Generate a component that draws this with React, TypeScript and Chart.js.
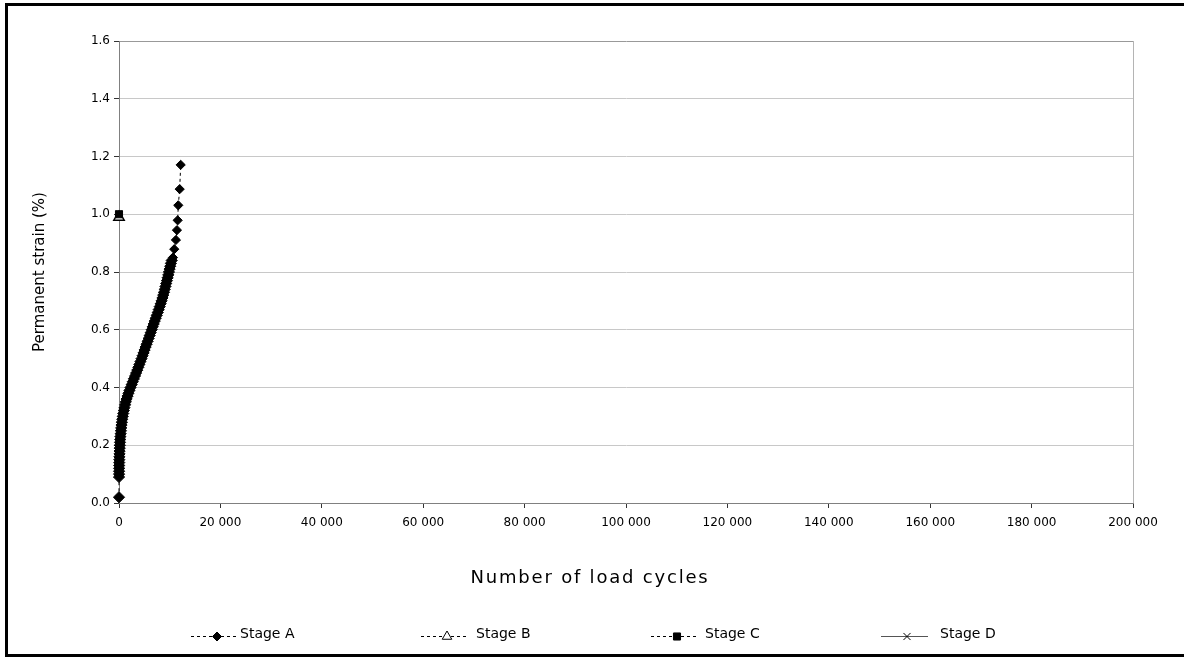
import React, { useEffect, useRef } from 'react';
import { Chart, registerables } from 'chart.js';
import { drawPoint } from 'chart.js/helpers';

Chart.register(...registerables);

// ---- Data ----
const stageACycles = [
  0, 0, 10, 20, 30, 40, 50, 60, 80, 100, 120, 140, 170, 200, 240, 280, 330, 380, 440, 500,
  570, 650, 740, 840, 950, 1070, 1200, 1340, 1500, 1680, 1870, 2070, 2280, 2500, 2720, 2940,
  3160, 3380, 3600, 3820, 4030, 4240, 4450, 4650, 4850, 5050, 5250, 5450, 5650, 5850, 6050,
  6250, 6450, 6650, 6850, 7050, 7250, 7450, 7650, 7840, 8030, 8220, 8400, 8570, 8730, 8880,
  9030, 9170, 9310, 9450, 9590, 9720, 9850, 9980, 10110, 10240, 10400, 10640, 10900, 11230,
  11430, 11570, 11690, 11970, 12170,
];
const stageAStrain = [
  0.02, 0.09, 0.10, 0.11, 0.12, 0.13, 0.14, 0.15, 0.16, 0.17, 0.18, 0.19, 0.20, 0.21, 0.22,
  0.23, 0.24, 0.25, 0.26, 0.27, 0.28, 0.29, 0.30, 0.31, 0.32, 0.33, 0.34, 0.35, 0.36, 0.37,
  0.38, 0.39, 0.40, 0.41, 0.42, 0.43, 0.44, 0.45, 0.46, 0.47, 0.48, 0.49, 0.50, 0.51, 0.52,
  0.53, 0.54, 0.55, 0.56, 0.57, 0.58, 0.59, 0.60, 0.61, 0.62, 0.63, 0.64, 0.65, 0.66, 0.67,
  0.68, 0.69, 0.70, 0.71, 0.72, 0.73, 0.74, 0.75, 0.76, 0.77, 0.78, 0.79, 0.80, 0.81, 0.82,
  0.83, 0.84, 0.85, 0.879, 0.911, 0.945, 0.979, 1.031, 1.087, 1.171,
];
const stageBCycles = [0];
const stageBStrain = [0.99];
const stageCCycles = [0];
const stageCStrain = [1.0];
const stageDCycles = [0];
const stageDStrain = [1.0];

const seriesNames = ['Stage A', 'Stage B', 'Stage C', 'Stage D'];
const xMin = 0;
const xMax = 200000;
const xStep = 20000;
const yMin = 0;
const yMax = 1.6;
const yStep = 0.2;
const xTitle = 'Number of load cycles';
const yTitle = 'Permanent strain (%)';

const FONT = "'DejaVu Sans', Verdana, sans-serif";

const toPoints = (xs: number[], ys: number[]) => xs.map((x, i) => ({ x, y: ys[i] }));
const fmtThousands = (v: number) => String(Math.round(v)).replace(/\B(?=(\d{3})+(?!\d))/g, ' ');

const legendTextOffsets = [49, 55, 54, 59];

const decorPlugin = {
  id: 'decor',
  afterDraw(chart: any) {
    const ctx = chart.ctx as CanvasRenderingContext2D;
    const area = chart.chartArea;
    ctx.save();
    ctx.fillStyle = '#000';
    ctx.textAlign = 'center';
    ctx.textBaseline = 'middle';
    ctx.save();
    ctx.font = `18px ${FONT}`;
    (ctx as any).letterSpacing = '1.8px';
    ctx.fillText(xTitle, chart.width / 2 - 2, 578);
    ctx.restore();
    ctx.font = `15px ${FONT}`;
    ctx.save();
    ctx.translate(40, (area.top + area.bottom) / 2);
    ctx.rotate(-Math.PI / 2);
    ctx.fillText(yTitle, 0, 0);
    ctx.restore();

    const start = chart.width / 2 - 401;
    const ly = 636.5;
    chart.data.datasets.forEach((ds: any, i: number) => {
      const x0 = start + i * 230;
      ctx.save();
      ctx.strokeStyle = ds.legendLineColor || ds.borderColor;
      ctx.lineWidth = 1;
      ctx.setLineDash(ds.borderDash || []);
      ctx.beginPath();
      ctx.moveTo(x0, ly);
      ctx.lineTo(x0 + 47, ly);
      ctx.stroke();
      ctx.setLineDash([]);
      ctx.fillStyle = ds.pointBackgroundColor;
      ctx.strokeStyle = ds.pointBorderColor;
      ctx.lineWidth = 1;
      drawPoint(ctx, { pointStyle: ds.pointStyle, rotation: 0, radius: ds.legendRadius, borderWidth: 1 } as any, x0 + 26, ly);
      ctx.restore();
      ctx.fillStyle = '#000';
      ctx.font = `14px ${FONT}`;
      ctx.textAlign = 'left';
      ctx.textBaseline = 'middle';
      ctx.fillText(seriesNames[i], x0 + legendTextOffsets[i], ly - 2);
    });
    ctx.restore();
  },
};

export default function App() {
  const canvasRef = useRef<HTMLCanvasElement | null>(null);

  useEffect(() => {
    if (!canvasRef.current) return;
    const chart = new Chart(canvasRef.current, {
      type: 'scatter',
      data: {
        datasets: [
          {
            label: seriesNames[0],
            data: toPoints(stageACycles, stageAStrain),
            order: 0,
            showLine: true,
            borderColor: '#000',
            borderWidth: 1,
            borderDash: [3, 3],
            pointStyle: 'rectRot',
            pointRadius: (c: any) => (c.raw && c.raw.y > 0.845 ? 4.6 : 5.6),
            legendRadius: 4.5,
            pointBackgroundColor: '#000',
            pointBorderColor: '#000',
            pointBorderWidth: 1,
            clip: false,
          },
          {
            label: seriesNames[1],
            data: toPoints(stageBCycles, stageBStrain),
            order: 3,
            showLine: true,
            borderColor: '#000',
            borderWidth: 1,
            borderDash: [3, 3],
            pointStyle: 'triangle',
            pointRadius: 6,
            legendRadius: 5.5,
            pointBackgroundColor: '#fff',
            pointBorderColor: '#000',
            pointBorderWidth: 1.5,
            clip: false,
          },
          {
            label: seriesNames[2],
            data: toPoints(stageCCycles, stageCStrain),
            order: 1,
            showLine: true,
            borderColor: '#000',
            borderWidth: 1,
            borderDash: [3, 3],
            pointStyle: 'rect',
            pointRadius: 5,
            legendRadius: 5,
            pointBackgroundColor: '#000',
            pointBorderColor: '#000',
            pointBorderWidth: 1,
            clip: false,
          },
          {
            label: seriesNames[3],
            data: toPoints(stageDCycles, stageDStrain),
            order: 2,
            showLine: true,
            borderColor: '#555',
            legendLineColor: '#555',
            borderWidth: 1,
            pointStyle: 'crossRot',
            pointRadius: 5,
            legendRadius: 5,
            pointBackgroundColor: '#000',
            pointBorderColor: '#000',
            pointBorderWidth: 1.5,
            clip: false,
          },
        ],
      },
      options: {
        responsive: false,
        animation: false,
        devicePixelRatio: 1,
        layout: { padding: { left: 0, top: 41, right: 51, bottom: 0 } },
        plugins: {
          legend: { display: false },
          tooltip: { enabled: false },
        },
        scales: {
          x: {
            type: 'linear',
            min: xMin,
            max: xMax,
            afterFit: (s: any) => { s.height = 154; },
            border: { display: true, color: '#808080', width: 1 },
            grid: {
              drawOnChartArea: true,
              drawTicks: true,
              tickLength: 5,
              tickColor: '#333',
              color: (c: any) => (c.tick && c.tick.value === xMax ? '#b4b4b4' : 'rgba(0,0,0,0)'),
            },
            ticks: {
              stepSize: xStep,
              autoSkip: false,
              maxRotation: 0,
              padding: 8,
              color: '#000',
              font: { family: FONT, size: 12 },
              callback: (v: any) => fmtThousands(Number(v)),
            },
          },
          y: {
            type: 'linear',
            min: yMin,
            max: yMax,
            afterFit: (s: any) => { s.width = 119; },
            border: { display: true, color: '#808080', width: 1 },
            grid: {
              drawTicks: true,
              tickLength: 5,
              tickColor: '#333',
              color: (c: any) => (c.tick && c.tick.value >= yMax - 1e-9 ? '#999' : '#c8c8c8'),
            },
            ticks: {
              stepSize: yStep,
              padding: 4,
              color: '#000',
              font: { family: FONT, size: 12 },
              callback: (v: any) => Number(v).toFixed(1),
            },
          },
        },
      },
      plugins: [decorPlugin],
    } as any);
    return () => chart.destroy();
  }, []);

  return (
    <div style={{ position: 'fixed', left: 0, top: 0, width: 1184, height: 657, overflow: 'hidden', background: '#fff' }}>
      <div
        style={{
          position: 'absolute',
          left: 5,
          top: 3,
          width: 1200,
          height: 654,
          border: '3px solid #000',
          boxSizing: 'border-box',
        }}
      />
      <canvas
        ref={canvasRef}
        width={1184}
        height={657}
        style={{ position: 'absolute', left: 0, top: 0, width: 1184, height: 657 }}
      />
    </div>
  );
}
